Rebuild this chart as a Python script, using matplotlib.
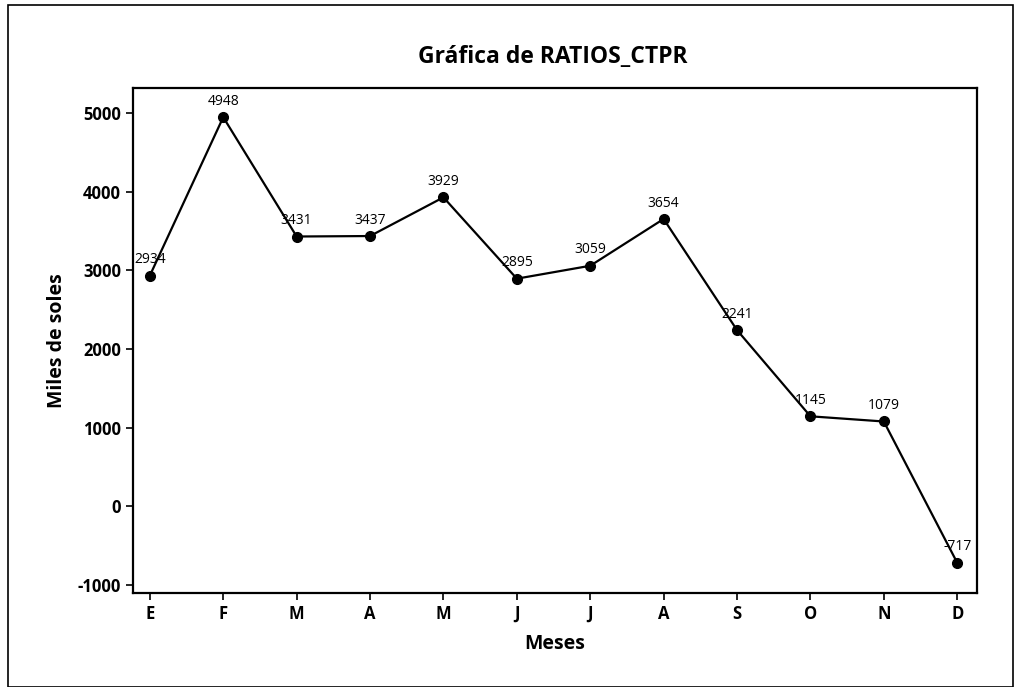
import matplotlib
matplotlib.use('Agg')
import matplotlib.pyplot as plt
from matplotlib.patches import Rectangle

plt.rcParams['font.family'] = ['Open Sans', 'DejaVu Sans']

# ── Data ──
meses = ['E', 'F', 'M', 'A', 'M', 'J', 'J', 'A', 'S', 'O', 'N', 'D']
ratios = [2934, 4948, 3431, 3437, 3929, 2895, 3059, 3654, 2241, 1145, 1079, -717]
y_ticks = [5000, 4000, 3000, 2000, 1000, 0, -1000]

fig = plt.figure(figsize=(10.15, 6.87), dpi=100)
ax = fig.add_axes([0.131, 0.137, 0.8316, 0.735])

x = list(range(len(meses)))
ax.plot(x, ratios, '-', color='black', linewidth=1.6, marker='o',
        markersize=7, zorder=3)

for xi, v in zip(x, ratios):
    ax.annotate(str(v), (xi, v), xytext=(0, 6), textcoords='offset points',
                ha='center', va='bottom', fontsize=10)

ax.set_xlim(-0.23, 11.27)
ax.set_ylim(-1100, 5320)
ax.set_xticks(x)
ax.set_xticklabels(meses, fontsize=12, fontweight='bold')
ax.set_yticks(y_ticks)
ax.set_yticklabels([str(t) for t in y_ticks], fontsize=12, fontweight='bold')
ax.tick_params(axis='both', direction='out', length=5, width=1.2)
for sp in ax.spines.values():
    sp.set_linewidth(1.6)

ax.set_xlabel('Meses', fontsize=14, fontweight='bold', labelpad=8)
ax.set_ylabel('Miles de soles', fontsize=14, fontweight='bold', labelpad=8)
fig.text(0.545, 0.917, 'Gráfica de RATIOS_CTPR', ha='center', va='center',
         fontsize=16.5, fontweight='bold')

# outer frame of the graph window
fig.patches.append(Rectangle((0.008, 0.0), 0.99, 0.993, transform=fig.transFigure,
                             fill=False, edgecolor='black', linewidth=1.2))

fig.savefig('out.png', dpi=100)
